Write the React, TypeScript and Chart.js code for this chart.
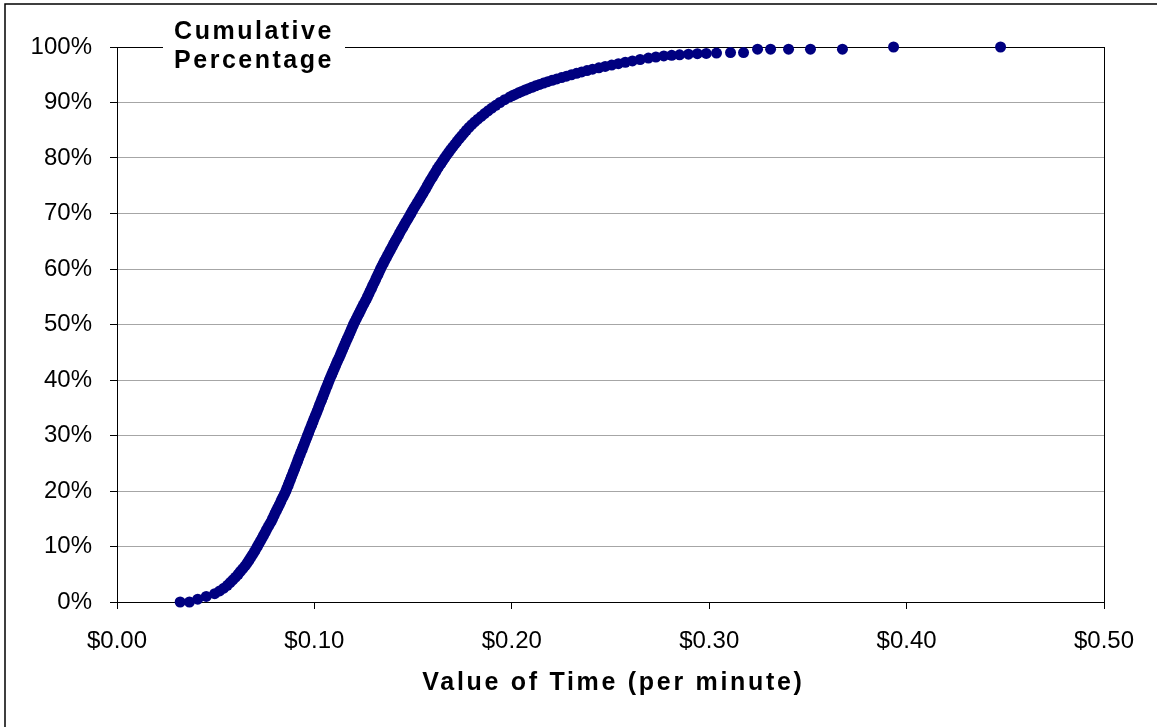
import React, { useEffect, useRef } from "react";
import { Chart, registerables } from "chart.js";

Chart.register(...registerables);

// Value of time ($ per minute) for each point
const valueOfTime = [
  0.0320, 0.0367, 0.0409, 0.0452, 0.0495, 0.0520, 0.0541, 0.0559, 0.0573, 0.0587,
  0.0601, 0.0614, 0.0625, 0.0637, 0.0649, 0.0659, 0.0668, 0.0677, 0.0686, 0.0695,
  0.0703, 0.0711, 0.0719, 0.0727, 0.0735, 0.0742, 0.0750, 0.0757, 0.0765, 0.0773,
  0.0781, 0.0788, 0.0795, 0.0801, 0.0808, 0.0815, 0.0822, 0.0829, 0.0835, 0.0842,
  0.0849, 0.0856, 0.0861, 0.0867, 0.0872, 0.0878, 0.0883, 0.0889, 0.0894, 0.0900,
  0.0905, 0.0911, 0.0916, 0.0921, 0.0927, 0.0932, 0.0938, 0.0943, 0.0949, 0.0954,
  0.0960, 0.0965, 0.0971, 0.0976, 0.0982, 0.0987, 0.0993, 0.0998, 0.1004, 0.1010,
  0.1015, 0.1021, 0.1026, 0.1032, 0.1037, 0.1043, 0.1048, 0.1054, 0.1059, 0.1065,
  0.1070, 0.1076, 0.1082, 0.1088, 0.1094, 0.1100, 0.1106, 0.1112, 0.1118, 0.1125,
  0.1131, 0.1137, 0.1143, 0.1149, 0.1155, 0.1161, 0.1167, 0.1174, 0.1180, 0.1186,
  0.1192, 0.1198, 0.1205, 0.1212, 0.1219, 0.1226, 0.1233, 0.1240, 0.1247, 0.1255,
  0.1262, 0.1269, 0.1276, 0.1282, 0.1289, 0.1295, 0.1302, 0.1309, 0.1315, 0.1322,
  0.1328, 0.1335, 0.1342, 0.1349, 0.1356, 0.1364, 0.1371, 0.1379, 0.1386, 0.1394,
  0.1401, 0.1409, 0.1417, 0.1425, 0.1432, 0.1440, 0.1448, 0.1456, 0.1464, 0.1473,
  0.1481, 0.1489, 0.1497, 0.1505, 0.1514, 0.1522, 0.1531, 0.1539, 0.1548, 0.1556,
  0.1564, 0.1572, 0.1580, 0.1588, 0.1597, 0.1605, 0.1614, 0.1622, 0.1631, 0.1641,
  0.1650, 0.1660, 0.1670, 0.1680, 0.1690, 0.1701, 0.1712, 0.1723, 0.1734, 0.1746,
  0.1758, 0.1770, 0.1783, 0.1797, 0.1812, 0.1828, 0.1845, 0.1862, 0.1880, 0.1899,
  0.1919, 0.1940, 0.1964, 0.1990, 0.2004, 0.2019, 0.2034, 0.2050, 0.2067, 0.2084,
  0.2102, 0.2121, 0.2141, 0.2161, 0.2182, 0.2204, 0.2228, 0.2252, 0.2277, 0.2302,
  0.2328, 0.2354, 0.2381, 0.2409, 0.2441, 0.2473, 0.2506, 0.2540, 0.2575, 0.2611,
  0.2650, 0.2692, 0.2730, 0.2770, 0.2810, 0.2850, 0.2895, 0.2940, 0.2985, 0.3037,
  0.3108, 0.3174, 0.3245, 0.3311, 0.3402, 0.3513, 0.3675, 0.3934, 0.4476,
];

// Cumulative percentage for each point
const cumulativePct = [
  0, 0, 0.5, 1, 1.5, 2, 2.5, 3, 3.5, 4,
  4.5, 5, 5.5, 6, 6.5, 7, 7.5, 8, 8.5, 9,
  9.5, 10, 10.5, 11, 11.5, 12, 12.5, 13, 13.5, 14,
  14.5, 15, 15.5, 16, 16.5, 17, 17.5, 18, 18.5, 19,
  19.5, 20, 20.5, 21, 21.5, 22, 22.5, 23, 23.5, 24,
  24.5, 25, 25.5, 26, 26.5, 27, 27.5, 28, 28.5, 29,
  29.5, 30, 30.5, 31, 31.5, 32, 32.5, 33, 33.5, 34,
  34.5, 35, 35.5, 36, 36.5, 37, 37.5, 38, 38.5, 39,
  39.5, 40, 40.5, 41, 41.5, 42, 42.5, 43, 43.5, 44,
  44.5, 45, 45.5, 46, 46.5, 47, 47.5, 48, 48.5, 49,
  49.5, 50, 50.5, 51, 51.5, 52, 52.5, 53, 53.5, 54,
  54.5, 55, 55.5, 56, 56.5, 57, 57.5, 58, 58.5, 59,
  59.5, 60, 60.5, 61, 61.5, 62, 62.5, 63, 63.5, 64,
  64.5, 65, 65.5, 66, 66.5, 67, 67.5, 68, 68.5, 69,
  69.5, 70, 70.5, 71, 71.5, 72, 72.5, 73, 73.5, 74,
  74.5, 75, 75.5, 76, 76.5, 77, 77.5, 78, 78.5, 79,
  79.5, 80, 80.5, 81, 81.5, 82, 82.5, 83, 83.5, 84,
  84.5, 85, 85.5, 86, 86.5, 87, 87.5, 88, 88.5, 89,
  89.5, 90, 90.5, 91, 91.25, 91.5, 91.75, 92, 92.25, 92.5,
  92.75, 93, 93.25, 93.5, 93.75, 94, 94.25, 94.5, 94.75, 95,
  95.25, 95.5, 95.75, 96, 96.25, 96.5, 96.75, 97, 97.25, 97.5,
  97.75, 98, 98.2, 98.4, 98.5, 98.6, 98.7, 98.8, 98.85, 98.9,
  99, 99, 99.6, 99.6, 99.6, 99.6, 99.6, 100, 100,
];

const yTitleLines = ["Cumulative", "Percentage"];
const xTitleText = "Value of Time (per minute)";

const FONT = "'Liberation Sans', Arial, sans-serif";

export default function App() {
  const canvasRef = useRef<HTMLCanvasElement | null>(null);

  useEffect(() => {
    const canvas = canvasRef.current;
    if (!canvas) return;
    const points = valueOfTime.map((x, i) => ({ x, y: cumulativePct[i] }));

    const decorPlugin = {
      id: "decor",
      beforeDraw(chart: any) {
        const c = chart.ctx;
        c.save();
        c.fillStyle = "#ffffff";
        c.fillRect(0, 0, chart.width, chart.height);
        c.strokeStyle = "#000000";
        c.lineWidth = 1.5;
        c.beginPath();
        c.moveTo(5, chart.height);
        c.lineTo(5, 4);
        c.lineTo(chart.width, 4);
        c.stroke();
        c.restore();
      },
      afterLayout(chart: any) {
        const sx: any = chart.scales.x;
        if (sx && !sx.__lsWrapped) {
          const orig = sx.drawTitle.bind(sx);
          sx.drawTitle = () => {
            const c: any = chart.ctx;
            const prev = c.letterSpacing;
            c.letterSpacing = "2.7px";
            c.save();
            c.translate(3, 0);
            orig();
            c.restore();
            c.letterSpacing = prev || "0px";
          };
          sx.__lsWrapped = true;
        }
      },
      beforeDatasetsDraw(chart: any) {
        const { left, top, right, bottom } = chart.chartArea;
        const c = chart.ctx;
        c.save();
        c.strokeStyle = "#000000";
        c.lineWidth = 1;
        c.strokeRect(Math.round(left) + 0.5, Math.round(top) + 0.5, Math.round(right - left), Math.round(bottom - top));
        c.restore();
      },
      afterDraw(chart: any) {
        const c: any = chart.ctx;
        c.save();
        c.fillStyle = "#ffffff";
        c.fillRect(163, 40, 182, 14);
        c.fillStyle = "#000000";
        c.font = `bold 25px ${FONT}`;
        c.letterSpacing = "2.5px";
        c.textAlign = "center";
        c.textBaseline = "alphabetic";
        c.fillText(yTitleLines[0], 254, 38.5);
        c.fillText(yTitleLines[1], 254, 67.5);
        c.letterSpacing = "0px";
        c.restore();
      },
    };

    const chart = new Chart(canvas, {
      type: "scatter",
      data: {
        datasets: [
          {
            data: points,
            backgroundColor: "#000080",
            borderColor: "#000080",
            pointBackgroundColor: "#000080",
            pointBorderColor: "#000080",
            radius: 5.5,
            pointRadius: 5.5,
            pointBorderWidth: 0,
            borderWidth: 0,
            pointHoverRadius: 5.5,
            showLine: false,
            clip: false as any,
          },
        ],
      },
      options: {
        responsive: false,
        animation: false,
        events: [],
        elements: {
          point: { radius: 5.5, borderWidth: 0, hoverRadius: 5.5, backgroundColor: "#000080" },
        },
        layout: { padding: { left: 0, top: 47, right: 53, bottom: 0 } },
        plugins: {
          legend: { display: false },
          tooltip: { enabled: false },
          title: { display: false },
        },
        scales: {
          x: {
            type: "linear",
            min: 0,
            max: 0.5,
            afterFit: (s: any) => {
              s.height = 125;
            },
            ticks: {
              stepSize: 0.1,
              color: "#000000",
              padding: 17.5,
              font: { family: FONT, size: 24 },
              callback: (v: any) => "$" + Number(v).toFixed(2),
            },
            grid: {
              drawOnChartArea: false,
              drawTicks: true,
              tickLength: 7,
              tickColor: "#000000",
              tickWidth: 1,
            },
            border: { display: true, color: "#000000", width: 1 },
            title: {
              display: true,
              text: xTitleText,
              color: "#000000",
              font: { family: FONT, size: 25, weight: "bold" },
              padding: { top: 0, bottom: 29 },
            },
          },
          y: {
            type: "linear",
            min: 0,
            max: 100,
            afterFit: (s: any) => {
              s.width = 117;
            },
            ticks: {
              stepSize: 10,
              color: "#000000",
              padding: 18,
              font: { family: FONT, size: 24 },
              callback: (v: any) => v + "%",
            },
            grid: {
              color: "#a6a6a6",
              lineWidth: 1,
              drawTicks: true,
              tickLength: 7,
              tickColor: "#000000",
              tickWidth: 1,
            },
            border: { display: true, color: "#000000", width: 1 },
            title: { display: false },
          },
        },
      },
      plugins: [decorPlugin],
    } as any);

    return () => {
      chart.destroy();
    };
  }, []);

  return (
    <div style={{ position: "fixed", left: 0, top: 0, width: 1157, height: 727, background: "#fff" }}>
      <canvas ref={canvasRef} width={1157} height={727} style={{ display: "block" }} />
    </div>
  );
}
